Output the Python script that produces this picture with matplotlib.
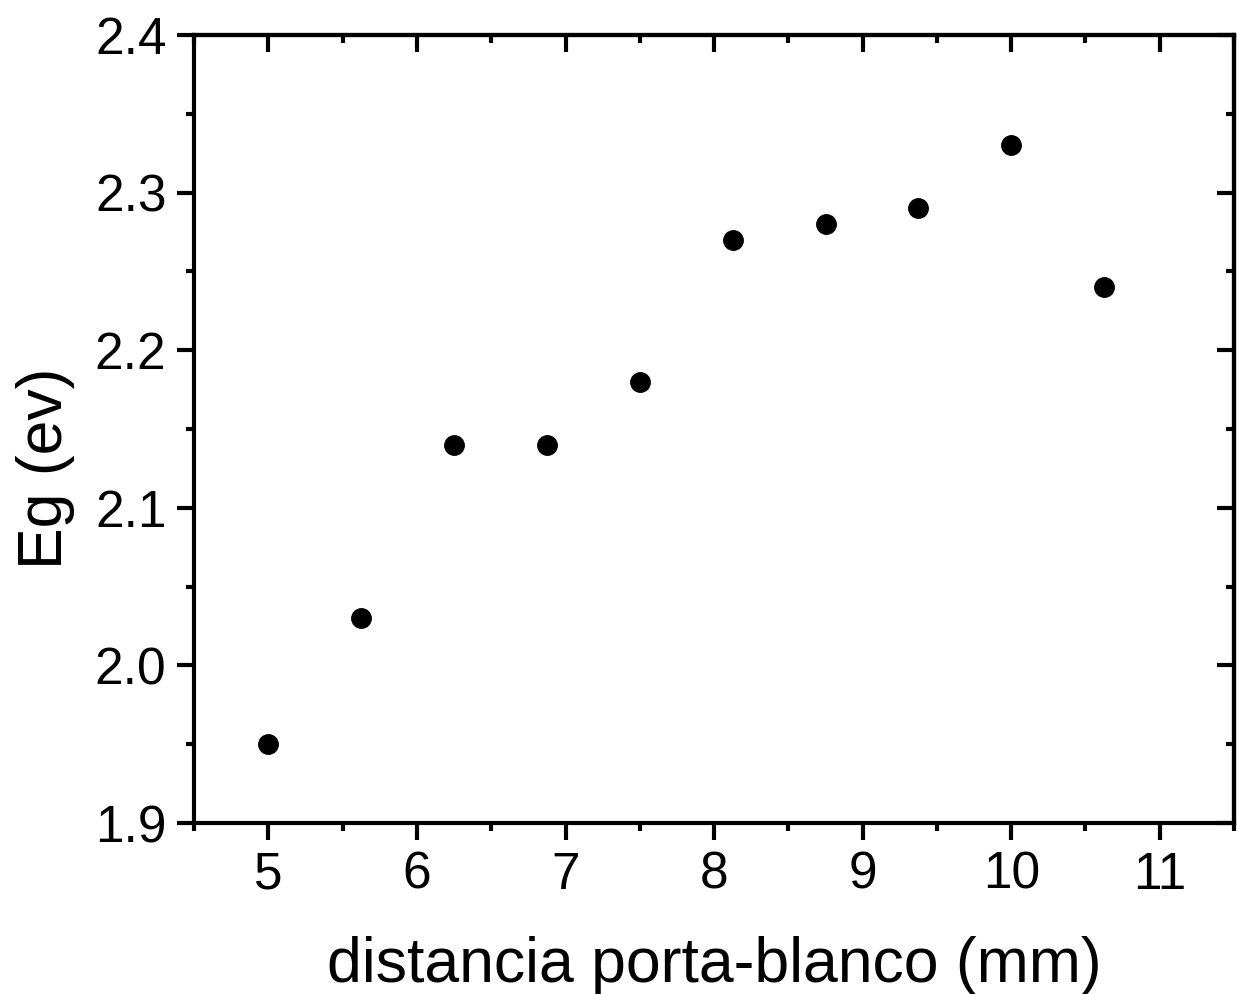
import numpy as np
import matplotlib
matplotlib.use('Agg')
import matplotlib.pyplot as plt
from matplotlib.ticker import MultipleLocator

plt.rcParams['font.family'] = ['Liberation Sans', 'DejaVu Sans']

distancia = [5.0, 5.625, 6.25, 6.875, 7.5, 8.125, 8.75, 9.375, 10.0, 10.625]
eg = [1.95, 2.03, 2.14, 2.14, 2.18, 2.27, 2.28, 2.29, 2.33, 2.24]

fig = plt.figure(figsize=(12.37, 9.94), dpi=100)
ax = fig.add_axes([0.157, 0.172, 0.8406, 0.7928])

ax.plot(distancia, eg, 'o', color='black', markersize=14)

ax.set_xlim(4.5, 11.5)
ax.set_ylim(1.9, 2.4)
ax.xaxis.set_major_locator(MultipleLocator(1))
ax.xaxis.set_minor_locator(MultipleLocator(0.5))
ax.yaxis.set_major_locator(MultipleLocator(0.1))
ax.yaxis.set_minor_locator(MultipleLocator(0.05))
ax.yaxis.set_major_formatter(plt.FormatStrFormatter('%.1f'))

for s in ax.spines.values():
    s.set_linewidth(3)

ax.tick_params(which='both', width=3, labelsize=37, pad=8)
ax.tick_params(which='major', length=12)
ax.tick_params(which='minor', length=6)
ax.tick_params(which='both', direction='out', bottom=True, left=True)

# mirrored ticks on top/right pointing inward
secx = ax.secondary_xaxis('top')
secx.xaxis.set_major_locator(MultipleLocator(1))
secx.xaxis.set_minor_locator(MultipleLocator(0.5))
secx.tick_params(which='both', direction='in', width=3, labeltop=False)
secx.tick_params(which='major', length=12)
secx.tick_params(which='minor', length=6)
secx.spines['top'].set_linewidth(3)

secy = ax.secondary_yaxis('right')
secy.yaxis.set_major_locator(MultipleLocator(0.1))
secy.yaxis.set_minor_locator(MultipleLocator(0.05))
secy.tick_params(which='both', direction='in', width=3, labelright=False)
secy.tick_params(which='major', length=12)
secy.tick_params(which='minor', length=6)
secy.spines['right'].set_linewidth(3)

ax.set_xlabel('distancia porta-blanco (mm)', fontsize=45, labelpad=26)
ax.set_ylabel('Eg (ev)', fontsize=45, labelpad=14, y=0.45)

fig.savefig('out.png', dpi=100)
